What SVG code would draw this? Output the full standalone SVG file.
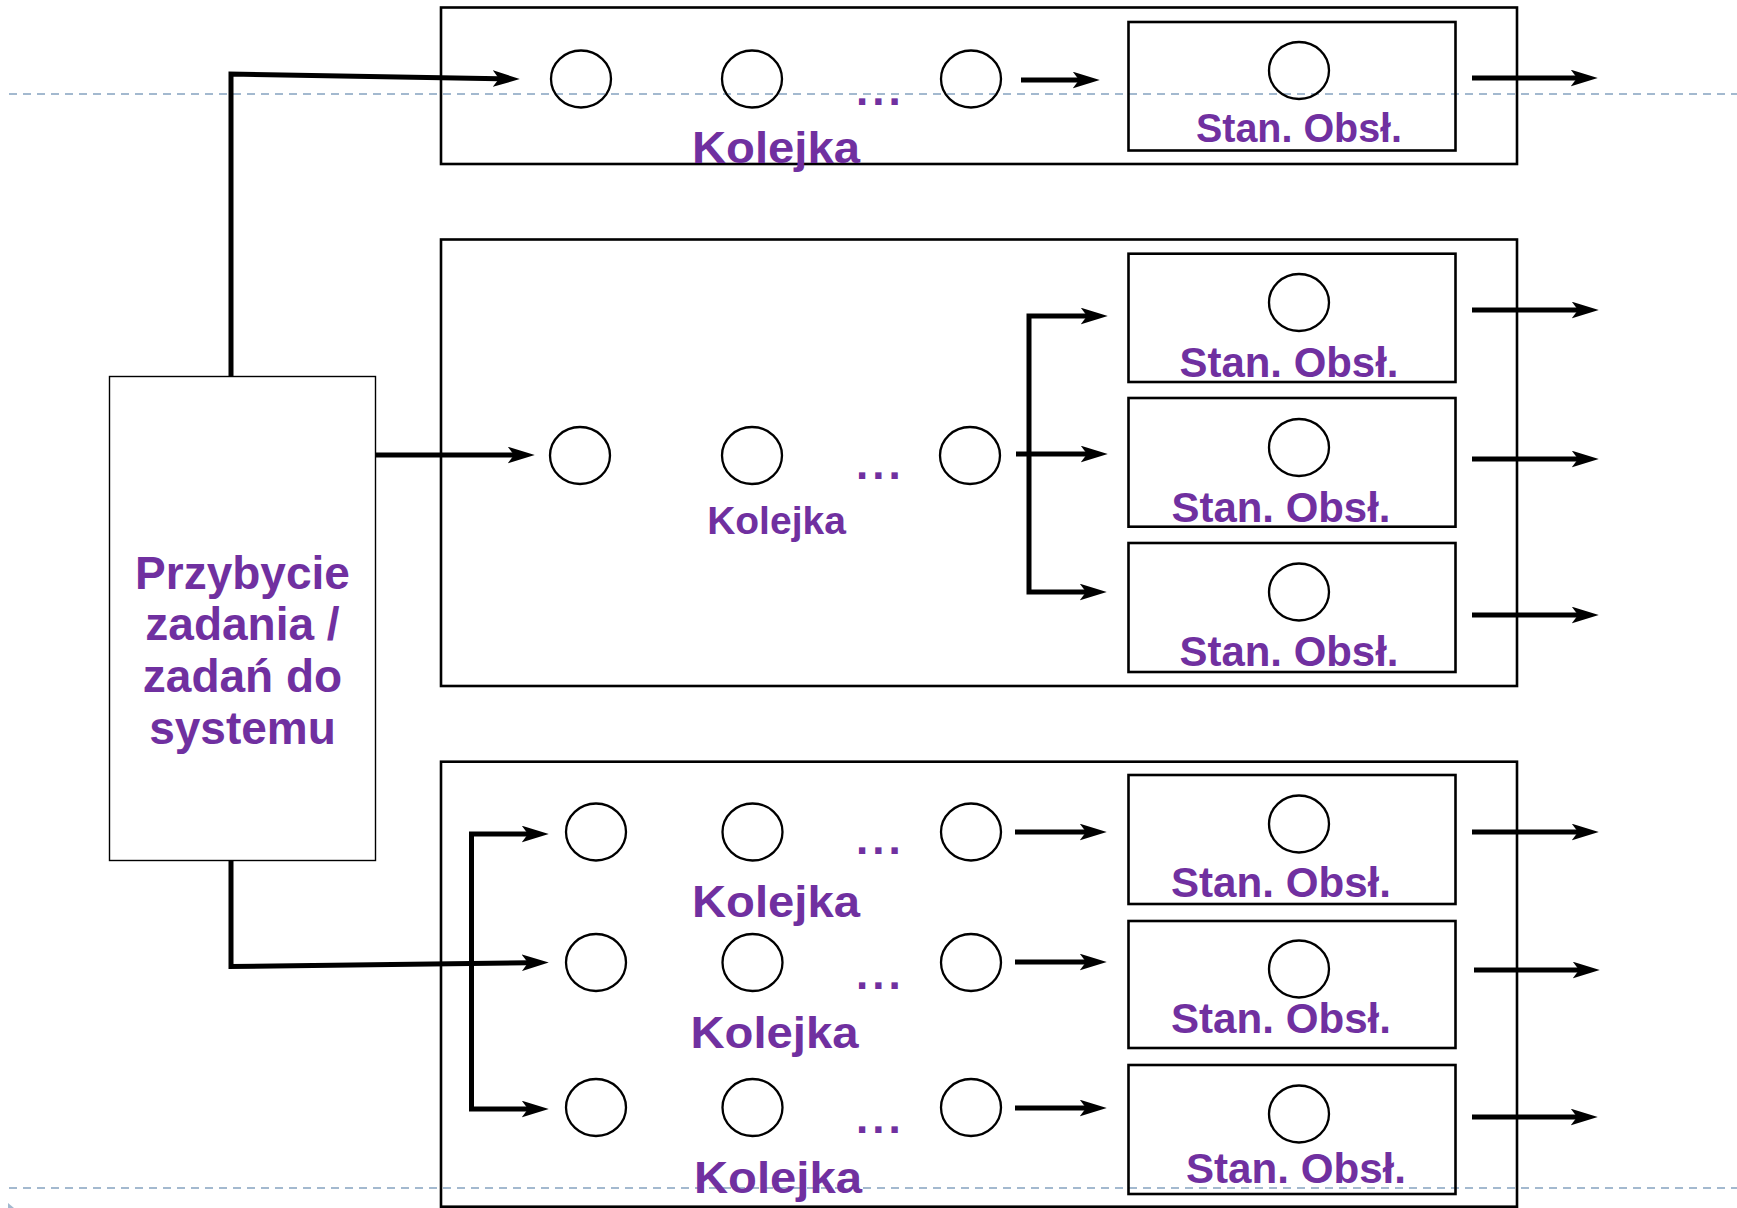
<svg xmlns="http://www.w3.org/2000/svg" width="1737" height="1208" viewBox="0 0 1737 1208">
<style>
.guide{stroke:#a3b9cf;stroke-width:2;stroke-dasharray:8 6;fill:none}
.box{fill:none;stroke:#000;stroke-width:2.6}
.src{fill:none;stroke:#000;stroke-width:1.4}
.sbox{fill:none;stroke:#000;stroke-width:2.6}
.c{fill:none;stroke:#000;stroke-width:2.3}
.con{fill:none;stroke:#000;stroke-width:5;stroke-linejoin:miter}
.arr{marker-end:url(#ah)}
.t{font-family:"Liberation Sans",Arial,sans-serif;font-weight:bold;fill:#7030a0;text-anchor:middle}
.dots{font-family:"Liberation Sans",Arial,sans-serif;font-weight:bold;fill:#7030a0;font-size:44px;letter-spacing:4px}
</style>
<defs>
<marker id="ah" markerUnits="userSpaceOnUse" markerWidth="27" markerHeight="17" viewBox="0 0 26 16" refX="6" refY="8" orient="auto">
<path d="M0,0 L26,8 L0,16 L6,8 z" fill="#000"/>
</marker>
</defs>

<g id="guides">
<line class="guide" x1="9" y1="94" x2="1737" y2="94"/>
<line class="guide" x1="9" y1="1188" x2="1737" y2="1188"/>
<polygon points="8,1203 14,1208 8,1208" fill="#a3b9cf"/>
</g>

<g id="source">
<rect class="src" x="109.5" y="376.5" width="266" height="484"/>
<text class="t" font-size="46" x="242.5" y="589">Przybycie</text>
<text class="t" font-size="46" x="242.5" y="640">zadania /</text>
<text class="t" font-size="46" x="242.5" y="692">zadań do</text>
<text class="t" font-size="46" x="242.5" y="744">systemu</text>
</g>

<g id="system1">
<rect class="box" x="441" y="7.5" width="1076" height="156.5"/>
<ellipse class="c" cx="581" cy="79" rx="30" ry="28.5"/>
<ellipse class="c" cx="752" cy="79" rx="30" ry="28.5"/>
<ellipse class="c" cx="971" cy="79" rx="30" ry="28.5"/>
<text class="dots" x="856" y="105">...</text>
<text class="t" font-size="45" x="776" y="163" textLength="168" lengthAdjust="spacingAndGlyphs">Kolejka</text>
<g id="server1">
<rect class="sbox" x="1128.5" y="22" width="327" height="128.5"/>
<ellipse class="c" cx="1299" cy="70.5" rx="30" ry="28.5"/>
<text class="t" font-size="41" x="1299" y="142" textLength="206" lengthAdjust="spacingAndGlyphs">Stan. Obsł.</text>
</g>
</g>

<g id="system2">
<rect class="box" x="441" y="239.5" width="1076" height="446.5"/>
<ellipse class="c" cx="580" cy="455.5" rx="30" ry="28.5"/>
<ellipse class="c" cx="752" cy="455.5" rx="30" ry="28.5"/>
<ellipse class="c" cx="970" cy="455.5" rx="30" ry="28.5"/>
<text class="dots" x="856" y="479">...</text>
<text class="t" font-size="39" x="776.5" y="534">Kolejka</text>
<g id="server2a">
<rect class="sbox" x="1128.5" y="253.7" width="327" height="128.3"/>
<ellipse class="c" cx="1299" cy="302.5" rx="30" ry="28.5"/>
<text class="t" font-size="43" x="1289" y="377" textLength="219" lengthAdjust="spacingAndGlyphs">Stan. Obsł.</text>
</g>
<g id="server2b">
<rect class="sbox" x="1128.5" y="398" width="327" height="128.7"/>
<ellipse class="c" cx="1299" cy="447.5" rx="30" ry="28.5"/>
<text class="t" font-size="43" x="1281" y="522" textLength="219" lengthAdjust="spacingAndGlyphs">Stan. Obsł.</text>
</g>
<g id="server2c">
<rect class="sbox" x="1128.5" y="543" width="327" height="129"/>
<ellipse class="c" cx="1299" cy="592" rx="30" ry="28.5"/>
<text class="t" font-size="43" x="1289" y="666" textLength="219" lengthAdjust="spacingAndGlyphs">Stan. Obsł.</text>
</g>
</g>

<g id="system3">
<rect class="box" x="441" y="761.7" width="1076" height="445"/>
<ellipse class="c" cx="596" cy="832" rx="30" ry="28.5"/>
<ellipse class="c" cx="752.5" cy="832" rx="30" ry="28.5"/>
<ellipse class="c" cx="971" cy="832" rx="30" ry="28.5"/>
<text class="dots" x="856" y="854">...</text>
<text class="t" font-size="45" x="776" y="917" textLength="168" lengthAdjust="spacingAndGlyphs">Kolejka</text>
<ellipse class="c" cx="596" cy="962.5" rx="30" ry="28.5"/>
<ellipse class="c" cx="752.5" cy="962.5" rx="30" ry="28.5"/>
<ellipse class="c" cx="971" cy="962.5" rx="30" ry="28.5"/>
<text class="dots" x="856" y="989">...</text>
<text class="t" font-size="45" x="774.5" y="1048" textLength="168" lengthAdjust="spacingAndGlyphs">Kolejka</text>
<ellipse class="c" cx="596" cy="1107.5" rx="30" ry="28.5"/>
<ellipse class="c" cx="752.5" cy="1107.5" rx="30" ry="28.5"/>
<ellipse class="c" cx="971" cy="1107.5" rx="30" ry="28.5"/>
<text class="dots" x="856" y="1133">...</text>
<text class="t" font-size="45" x="778" y="1193" textLength="168" lengthAdjust="spacingAndGlyphs">Kolejka</text>
<g id="server3a">
<rect class="sbox" x="1128.5" y="775" width="327" height="129"/>
<ellipse class="c" cx="1299" cy="824" rx="30" ry="28.5"/>
<text class="t" font-size="43" x="1281" y="897" textLength="220" lengthAdjust="spacingAndGlyphs">Stan. Obsł.</text>
</g>
<g id="server3b">
<rect class="sbox" x="1128.5" y="921" width="327" height="127"/>
<ellipse class="c" cx="1299" cy="969" rx="30" ry="28.5"/>
<text class="t" font-size="43" x="1281" y="1033" textLength="220" lengthAdjust="spacingAndGlyphs">Stan. Obsł.</text>
</g>
<g id="server3c">
<rect class="sbox" x="1128.5" y="1065" width="327" height="129"/>
<ellipse class="c" cx="1299" cy="1114" rx="30" ry="28.5"/>
<text class="t" font-size="43" x="1296" y="1183" textLength="220" lengthAdjust="spacingAndGlyphs">Stan. Obsł.</text>
</g>
</g>

<g id="connectors">
<path class="con arr" d="M231,376.5 L231,74 L499,78.7"/>
<path class="con arr" d="M375.5,455 L514,455"/>
<path class="con arr" d="M231,860.5 L231,966.5 L528,962.7"/>
<path class="con arr" d="M1021,80 L1079,80"/>
<path class="con arr" d="M1472,78 L1577,78"/>
<path class="con arr" d="M1029,454 L1029,316 L1087,316"/>
<path class="con arr" d="M1029,454 L1029,592 L1086,592"/>
<path class="con arr" d="M1016,454 L1087,454"/>
<path class="con arr" d="M1472,310 L1578,310"/>
<path class="con arr" d="M1472,459 L1578,459"/>
<path class="con arr" d="M1472,615 L1578,615"/>
<path class="con arr" d="M471.5,963 L471.5,834 L528,834"/>
<path class="con arr" d="M471.5,963 L471.5,1109 L528,1109"/>
<path class="con arr" d="M1015,832 L1086,832"/>
<path class="con arr" d="M1015,962 L1086,962"/>
<path class="con arr" d="M1015,1108 L1086,1108"/>
<path class="con arr" d="M1472,832 L1578,832"/>
<path class="con arr" d="M1474,970 L1579,970"/>
<path class="con arr" d="M1472,1117 L1577,1117"/>
</g>
</svg>
